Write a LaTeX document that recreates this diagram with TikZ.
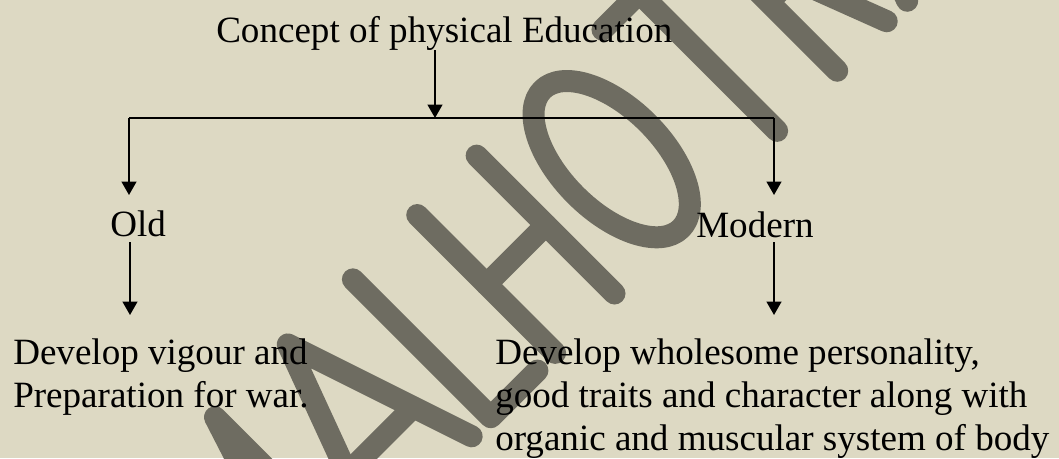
\documentclass[tikz,border=0pt]{standalone}
\usepackage{fontspec}
\setmainfont{Liberation Serif}
\usepackage{tikz}
\usepackage{xcolor}
\usetikzlibrary{positioning,arrows.meta}

\definecolor{paper}{RGB}{221,217,195}
\definecolor{wmark}{RGB}{110,108,97}

\begin{document}
\begin{tikzpicture}[x=0.75pt,y=-0.75pt,
  lbl/.style={inner sep=0pt,font=\fontsize{27.8pt}{31.9pt}\selectfont},
  arr/.style={line width=1.5pt,-{Triangle[width=11pt,length=10pt]}},
  bar/.style={line width=1pt},
  wm/.style={wmark,line width=16.5pt,line cap=round,line join=round}]
\useasboundingbox (0,0) rectangle (1059,458);
\fill[paper] (0,0) rectangle (1059,458);

% watermark
\begin{scope}
\clip (0,0) rectangle (1059,458);
\begin{scope}[shift={(454,454)},x={(0.5303pt,0.5303pt)},y={(-0.5303pt,0.5303pt)}]
\draw[wm] (-250,0) -- (-250,195) -- (-196,30) -- (-143,195) -- (-143,0);
\draw[wm] (-112,0) -- (-40,195) -- (25,0);
\draw[wm] (-89,62) -- (4,62);
\draw[wm] (52,195) -- (52,0) -- (118,0);
\draw[wm] (143,195) -- (143,0);
\draw[wm] (227,195) -- (227,0);
\draw[wm] (143,97) -- (227,97);
\draw[wm] (320,97) ellipse [x radius=51, y radius=98];
\draw[wm] (405,195) -- (510,195);
\draw[wm] (457,195) -- (457,0);
\draw[wm] (542,0) -- (542,195) -- (585,195) .. controls (618,195) and (618,97) .. (585,97) -- (542,97);
\draw[wm] (575,97) -- (612,0);
\draw[wm] (641,0) -- (710,195) -- (775,0);
\draw[wm] (664,62) -- (753,62);
\end{scope}
\end{scope}

\node[lbl,anchor=base west] (concept) at (216,42) {Concept of physical Education};
\node[lbl,anchor=base west] (old) at (110,236) {Old};
\node[lbl,anchor=base west] (modern) at (696,237) {Modern};
\node[lbl,anchor=base west,align=left] (oldtext) at (13,407) {Develop vigour and\\Preparation for war.};
\node[lbl,anchor=base west,align=left] (modtext) at (495,450) {Develop wholesome personality,\\good traits and character along with\\organic and muscular system of body};

\coordinate (join) at (435,118);
\coordinate (left) at (129,118);
\coordinate (right) at (774,118);
\coordinate (oldin) at (129,195);
\coordinate (modin) at (774,195);
\coordinate (oldout) at (130,242);
\coordinate (oldend) at (130,315);
\coordinate (modout) at (774,242);
\coordinate (modend) at (774,315);

\draw[arr] (join |- concept.south) -- (join);
\draw[bar] (left) -- (right);
\draw[arr] (left) -- (oldin);
\draw[arr] (right) -- (modin);
\draw[arr] (oldout) -- (oldend);
\draw[arr] (modout) -- (modend);

\end{tikzpicture}
\end{document}
